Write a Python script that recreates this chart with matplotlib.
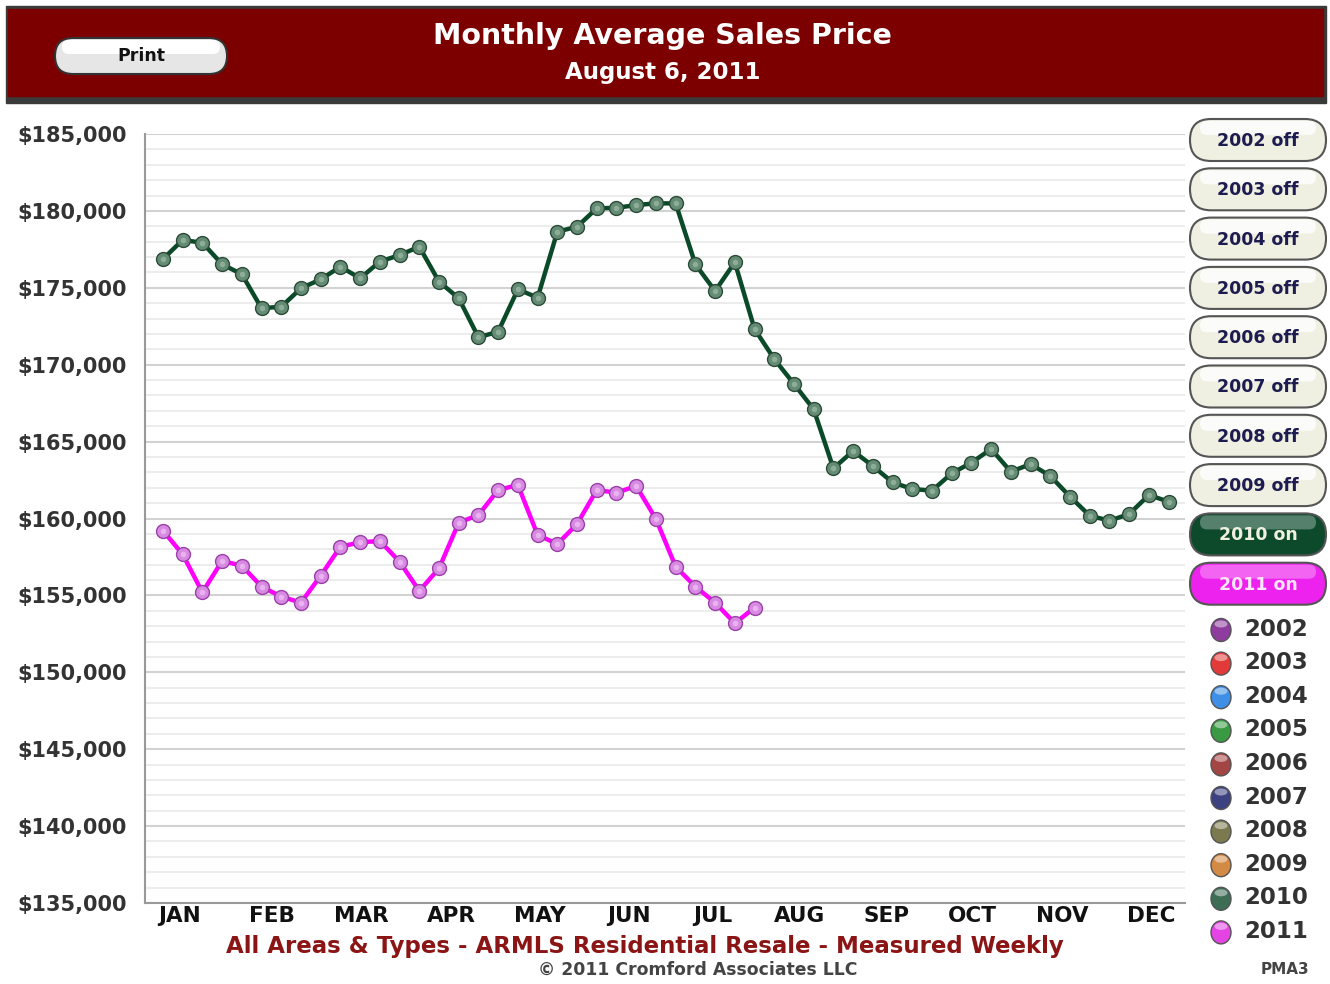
import numpy as np
import matplotlib
matplotlib.use('Agg')
import matplotlib.pyplot as plt
from matplotlib.patches import FancyBboxPatch, Rectangle, Ellipse

# weekly average sales price
prices_2010 = [176870, 178110, 177930, 176530, 175880, 173670, 173770, 174970,
               175550, 176370, 175620, 176700, 177130, 177670, 175400, 174320,
               171780, 172150, 174900, 174360, 178650, 178970, 180170, 180200,
               180380, 180490, 180490, 176530, 174790, 176660, 172320, 170370,
               168750, 167100, 163260, 164390, 163410, 162350, 161920, 161810,
               162940, 163630, 164520, 163040, 163540, 162760, 161420, 160180,
               159860, 160290, 161530, 161090]
prices_2011 = [159210, 157670, 155200, 157240, 156930, 155570, 154920, 154530,
               156280, 158170, 158450, 158540, 157190, 155290, 156760, 159730,
               160230, 161850, 162180, 158930, 158340, 159640, 161850, 161680,
               162110, 159970, 156870, 155570, 154530, 153190, 154200]

months = ['JAN', 'FEB', 'MAR', 'APR', 'MAY', 'JUN', 'JUL', 'AUG', 'SEP', 'OCT', 'NOV', 'DEC']
years = ['2002', '2003', '2004', '2005', '2006', '2007', '2008', '2009', '2010', '2011']
year_colors = ['#8e3d9e', '#e23a3a', '#3f8fe6', '#3a9a44', '#a34545', '#3c4180',
               '#7b7a4e', '#d28a45', '#3d6d55', '#e344e3']
shown = {'2010': ('#0d4a2c', '#f0f0e0'), '2011': ('#ee22ee', '#fbe6fb')}

# where the month labels sit, in week units
month_ticks = [0.86, 5.53, 10.04, 14.6, 19.12, 23.63, 27.89, 32.3, 36.71, 41.07, 45.59, 50.1]

fig = plt.figure(figsize=(13.3, 9.84), dpi=100)

# main chart area
ax = fig.add_axes([145/1330, 1 - 903/984, 1040/1330, 769/984])
weeks_2010 = np.arange(len(prices_2010))
weeks_2011 = np.arange(len(prices_2011))
ax.plot(weeks_2010, prices_2010, color='#0a4a28', lw=3.2, zorder=3,
        marker='o', ms=10, mfc='#648c74', mec='#2c4a38', mew=1)
ax.plot(weeks_2011, prices_2011, color='#ff00ff', lw=3.2, zorder=3,
        marker='o', ms=10, mfc='#d88ae2', mec='#9a40a8', mew=1)
# glossy highlight on the dots
ax.plot(weeks_2010, prices_2010, ls='none', marker='o', ms=4, mfc='#9fbcaa', mec='none', zorder=4, alpha=0.7)
ax.plot(weeks_2011, prices_2011, ls='none', marker='o', ms=4, mfc='#f2c4f6', mec='none', zorder=4, alpha=0.7)

ax.set_xlim(-0.91, 51.83)
ax.set_ylim(135000, 185000)
ax.set_yticks(np.arange(135000, 185001, 5000))
ax.set_yticks(np.arange(135000, 185001, 1000), minor=True)
ax.set_yticklabels(['${:,}'.format(v) for v in range(135000, 185001, 5000)],
                   fontsize=15, fontweight='bold', color='#333333')
ax.set_xticks(month_ticks)
ax.set_xticklabels(months, fontsize=15.5, fontweight='bold', color='#111111')
ax.tick_params(axis='both', which='both', length=0)
ax.tick_params(axis='y', pad=13)
ax.tick_params(axis='x', pad=2)
ax.grid(axis='y', which='major', color='#d2d2d2', lw=1.5, zorder=0)
ax.grid(axis='y', which='minor', color='#ebebeb', lw=1.3, zorder=0)
for s in ['top', 'right']:
    ax.spines[s].set_visible(False)
for s in ['left', 'bottom']:
    ax.spines[s].set_color('#999999')
    ax.spines[s].set_linewidth(1.5)

# overlay in pixel coordinates for header, buttons, legend
ov = fig.add_axes([0, 0, 1, 1], facecolor='none')
ov.set_xlim(0, 1330)
ov.set_ylim(984, 0)
ov.axis('off')

ov.add_patch(Rectangle((6, 6), 1320, 97, color='#3a3a3a', zorder=1))
ov.add_patch(Rectangle((8, 9), 1315, 87, color='#7d0000', zorder=2))
ov.text(662, 36, 'Monthly Average Sales Price', color='white', fontsize=20.5,
        fontweight='bold', ha='center', va='center', zorder=3)
ov.text(663, 72, 'August 6, 2011', color='white', fontsize=16.5,
        fontweight='bold', ha='center', va='center', zorder=3)

# print button
ov.add_patch(FancyBboxPatch((55, 38), 172, 36, boxstyle='round,pad=0,rounding_size=18',
                            fc='#e6e6e6', ec='#333333', lw=1.5, zorder=3))
ov.add_patch(FancyBboxPatch((62, 40), 158, 14, boxstyle='round,pad=0,rounding_size=7',
                            fc='white', ec='none', zorder=4))
ov.text(141, 56, 'Print', fontsize=12.5, fontweight='bold', color='#111111',
        ha='center', va='center', zorder=5)

# year toggle buttons
for i, yr in enumerate(years):
    cy = 140 + i * 49.3
    if yr in shown:
        fc, tc = shown[yr]
        label = yr + ' on'
        hla = 0.3
    else:
        fc, tc = '#efefe2', '#1c1c50'
        label = yr + ' off'
        hla = 0.8
    ov.add_patch(FancyBboxPatch((1190, cy - 21), 136, 42, boxstyle='round,pad=0,rounding_size=21',
                                fc=fc, ec='#555555', lw=1.5, zorder=3))
    ov.add_patch(FancyBboxPatch((1200, cy - 19), 116, 14, boxstyle='round,pad=0,rounding_size=7',
                                fc='white', ec='none', alpha=hla, zorder=4))
    ov.text(1258, cy + 1, label, fontsize=12.5, fontweight='bold', color=tc,
            ha='center', va='center', zorder=5)

# colour legend
for i, yr in enumerate(years):
    cy = 629 + i * 33.6
    ov.add_patch(Ellipse((1221, cy + 1), 20, 23, fc=year_colors[i], ec='#555555', lw=1, zorder=3))
    ov.add_patch(Ellipse((1221, cy - 5), 13, 7, fc='white', ec='none', alpha=0.45, zorder=4))
    ov.text(1244, cy, yr, fontsize=16.5, fontweight='bold', color='#333333',
            ha='left', va='center', zorder=5)

# footer
ov.text(645, 946, 'All Areas & Types - ARMLS Residential Resale - Measured Weekly',
        fontsize=16.5, fontweight='bold', color='#8b1414', ha='center', va='center')
ov.text(698, 970, '\u00a9 2011 Cromford Associates LLC', fontsize=12.4,
        fontweight='bold', color='#444444', ha='center', va='center')
ov.text(1285, 969, 'PMA3', fontsize=11, fontweight='bold', color='#444444',
        ha='center', va='center')

fig.savefig('out.png', dpi=100)
